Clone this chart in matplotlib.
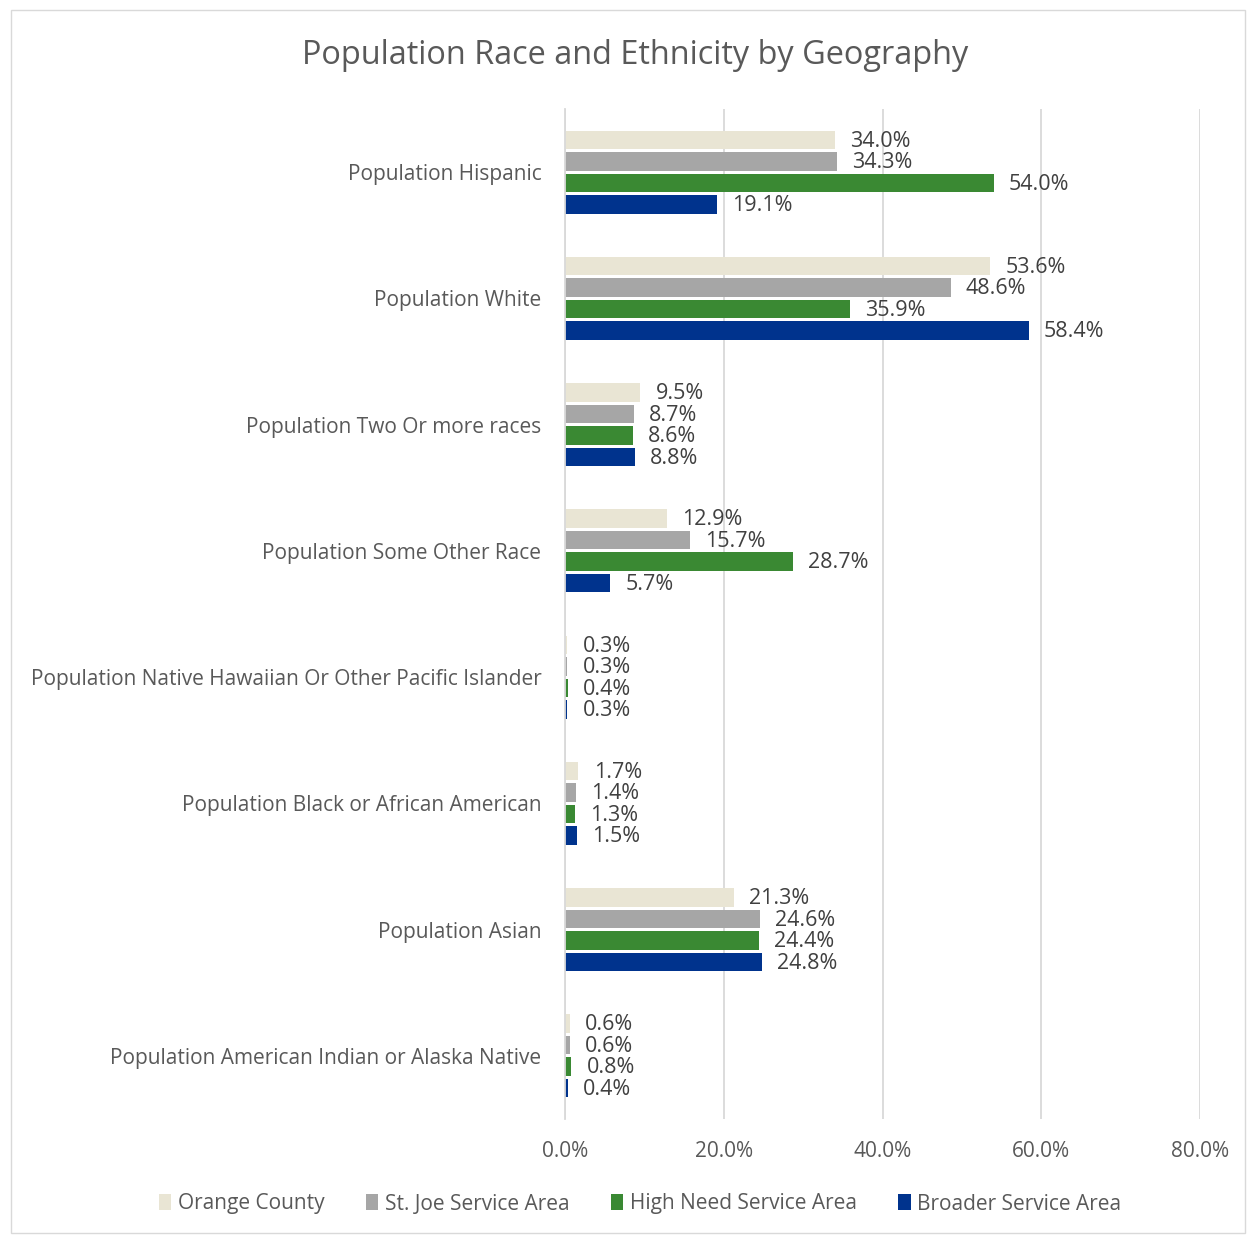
import numpy as np
import matplotlib.pyplot as plt
from matplotlib.patches import Rectangle

# data
categories = ['Population Hispanic', 'Population White', 'Population Two Or more races',
              'Population Some Other Race', 'Population Native Hawaiian Or Other Pacific Islander',
              'Population Black or African American', 'Population Asian',
              'Population American Indian or Alaska Native']
series = ['Orange County', 'St. Joe Service Area', 'High Need Service Area', 'Broader Service Area']
orange_county = [34.0, 53.6, 9.5, 12.9, 0.3, 1.7, 21.3, 0.6]
st_joe = [34.3, 48.6, 8.7, 15.7, 0.3, 1.4, 24.6, 0.6]
high_need = [54.0, 35.9, 8.6, 28.7, 0.4, 1.3, 24.4, 0.8]
broader = [19.1, 58.4, 8.8, 5.7, 0.3, 1.5, 24.8, 0.4]
colors = ['#E9E5D4', '#A6A6A6', '#3A8933', '#00338D']

plt.rcParams['font.family'] = ['Open Sans', 'DejaVu Sans']
W, H = 1248, 1235
fig = plt.figure(figsize=(W / 100, H / 100), dpi=100)
ax = fig.add_axes([565 / W, 1 - 1119 / H, (1200 - 565) / W, (1119 - 109) / H])

n = len(categories)
y = np.arange(n)
slot = 0.17
for i, vals in enumerate([orange_county, st_joe, high_need, broader]):
    pos = y + (i - 1.5) * slot
    ax.barh(pos, vals, height=slot * 0.86, color=colors[i], label=series[i], zorder=3)
    for p, v in zip(pos, vals):
        ax.text(v + 1.9, p + 0.01, f'{v:.1f}%', va='center', ha='left', fontsize=15.5, color='#404040')

ax.set_xlim(0, 80)
ax.set_ylim(n - 0.5, -0.5)
ax.set_xticks(np.arange(0, 81, 20))
ax.set_xticklabels([f'{t:.1f}%' for t in np.arange(0, 81, 20)])
ax.set_yticks(y)
ax.set_yticklabels(categories)
ax.tick_params(axis='x', length=0, labelsize=15, labelcolor='#595959', pad=16)
ax.tick_params(axis='y', length=0, labelsize=15, labelcolor='#595959', pad=17)
ax.grid(axis='x', color='#D9D9D9', linewidth=1.3, zorder=0)
for s in ['top', 'right', 'bottom']:
    ax.spines[s].set_visible(False)
ax.spines['left'].set_color('#D9D9D9')
ax.spines['left'].set_linewidth(1.3)
ax.spines['left'].set_zorder(4)

fig.text(635 / W, 1 - 55 / H, 'Population Race and Ethnicity by Geography',
         ha='center', va='center', fontsize=23.4, color='#595959')

fig.legend(loc='center', bbox_to_anchor=(640 / W, 1 - 1204 / H), ncol=4, frameon=False,
           fontsize=15, labelcolor='#595959', handlelength=0.6, handleheight=0.8,
           handletextpad=0.3, columnspacing=2.0)

fig.patches.append(Rectangle((11 / W, 2 / H), (1245 - 11) / W, (1225 - 2) / H,
                             transform=fig.transFigure, fill=False,
                             edgecolor='#D9D9D9', linewidth=1))

fig.savefig('out.png', dpi=100)
